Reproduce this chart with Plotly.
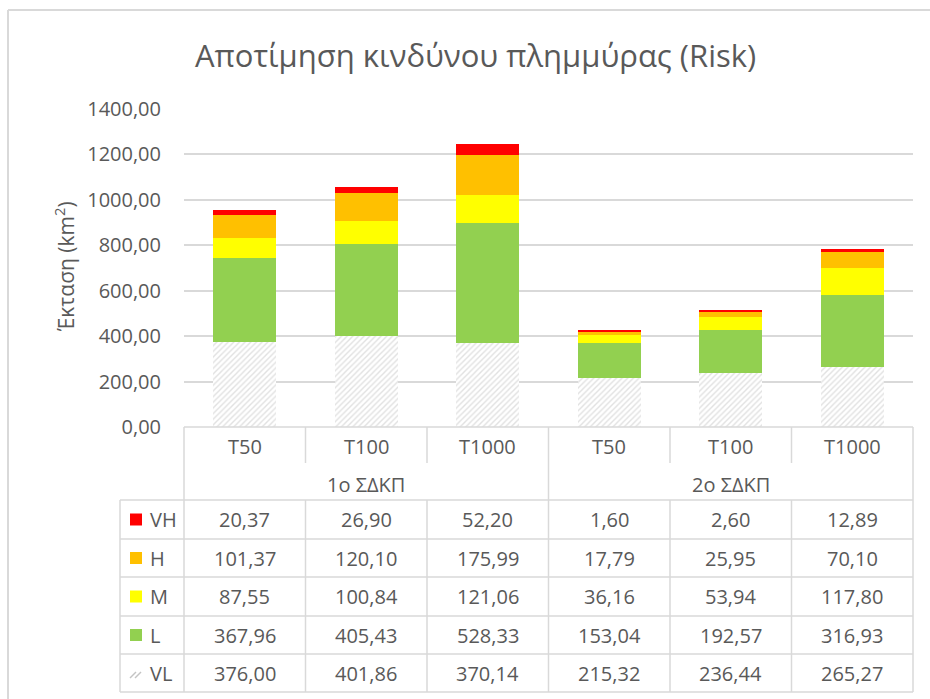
import plotly.graph_objects as go

# ---- data ----
groups = ["1ο ΣΔΚΠ", "2ο ΣΔΚΠ"]
periods = ["T50", "T100", "T1000", "T50", "T100", "T1000"]
series_names = ["VH", "H", "M", "L", "VL"]
vh = [20.37, 26.90, 52.20, 1.60, 2.60, 12.89]
h = [101.37, 120.10, 175.99, 17.79, 25.95, 70.10]
m = [87.55, 100.84, 121.06, 36.16, 53.94, 117.80]
l_ = [367.96, 405.43, 528.33, 153.04, 192.57, 316.93]
vl = [376.00, 401.86, 370.14, 215.32, 236.44, 265.27]
y_ticks = [0, 200, 400, 600, 800, 1000, 1200, 1400]

colors = {"VH": "#FF0000", "H": "#FFC000", "M": "#FFFF00", "L": "#92D050"}
hatch = "#C4C4C4"
txt = "#595959"
grid = "#D9D9D9"
FONT = "Open Sans"
FS = 20

W, H_ = 930, 699
L, R, T, B = 184, 913, 109, 427  # plot-area pixel box


def px(x):
    return (x - L) / (R - L)


def py(y):
    return (B - y) / (B - T)


x_idx = list(range(len(periods)))
fig = go.Figure()

# stacked from bottom: VL, L, M, H, VH
fig.add_bar(x=x_idx, y=vl, name="VL", width=0.52,
            marker=dict(color="white", line=dict(width=0),
                        pattern=dict(shape="/", fgcolor=hatch, bgcolor="white",
                                     size=4, solidity=0.35)))
for name, vals in [("L", l_), ("M", m), ("H", h), ("VH", vh)]:
    fig.add_bar(x=x_idx, y=vals, name=name, width=0.52,
                marker=dict(color=colors[name], line=dict(width=0)))

shapes = []
ann = []


def hline(y, x0, x1, w=1.5, c=grid):
    shapes.append(dict(type="line", xref="paper", yref="paper",
                       x0=px(x0), x1=px(x1), y0=py(y), y1=py(y),
                       line=dict(color=c, width=w)))


def vline(x, y0, y1, w=1.5, c=grid):
    shapes.append(dict(type="line", xref="paper", yref="paper",
                       x0=px(x), x1=px(x), y0=py(y0), y1=py(y1),
                       line=dict(color=c, width=w)))


def label(x, y, s, size=FS, anchor="center"):
    ann.append(dict(xref="paper", yref="paper", x=px(x), y=py(y), text=s,
                    showarrow=False, xanchor=anchor, yanchor="middle",
                    font=dict(family=FONT, size=size, color=txt)))


# outer chart border
hline(10, 8, 930, w=2)
vline(8, 10, 699, w=2)

# ---- data table ----
col_w = (R - L) / 6
cols = [L + i * col_w for i in range(7)]
row_tops = [500, 539, 577, 616, 654, 692]
T_LEFT = 120

hline(B, L, R)
for y in row_tops:
    hline(y, T_LEFT, R)
vline(L, B, row_tops[-1])
vline(R, B, row_tops[-1])
vline(T_LEFT, row_tops[0], row_tops[-1])
for i in (1, 2, 4, 5):
    vline(cols[i], B, 463)
    vline(cols[i], row_tops[0], row_tops[-1])
vline(cols[3], B, row_tops[-1])

for i, p in enumerate(periods):
    label((cols[i] + cols[i + 1]) / 2, 446, p)
for g, gname in enumerate(groups):
    label((cols[3 * g] + cols[3 * g + 3]) / 2, 484, gname)

table_rows = [("VH", vh), ("H", h), ("M", m), ("L", l_), ("VL", vl)]
for r, (name, vals) in enumerate(table_rows):
    yc = (row_tops[r] + row_tops[r + 1]) / 2
    for i, v in enumerate(vals):
        label((cols[i] + cols[i + 1]) / 2, yc, f"{v:.2f}".replace(".", ","))
    label(148, yc, name, anchor="left")
    if name in colors:
        shapes.append(dict(type="rect", xref="paper", yref="paper",
                           x0=px(130), x1=px(142), y0=py(yc - 6), y1=py(yc + 6),
                           fillcolor=colors[name], line=dict(width=0)))
    else:
        for d in (0, 5):
            shapes.append(dict(type="line", xref="paper", yref="paper",
                               x0=px(130 + d), x1=px(136 + d),
                               y0=py(yc + 5), y1=py(yc - 1),
                               line=dict(color=hatch, width=1.5)))

# axis title and chart title
ann.append(dict(xref="paper", yref="paper", x=px(64), y=py(267),
                text="Έκταση (km<sup>2</sup>)", showarrow=False, textangle=-90,
                xanchor="center", yanchor="middle",
                font=dict(family=FONT, size=21, color=txt)))
ann.append(dict(xref="paper", yref="paper", x=px(475), y=py(55),
                text="Αποτίμηση κινδύνου πλημμύρας (Risk)", showarrow=False,
                xanchor="center", yanchor="middle",
                font=dict(family=FONT, size=31, color=txt)))

fig.update_layout(
    width=W, height=H_,
    margin=dict(l=L, r=W - R, t=T, b=H_ - B, pad=0),
    paper_bgcolor="white", plot_bgcolor="white",
    barmode="stack", showlegend=False, separators=",.",
    font=dict(family=FONT, color=txt),
    xaxis=dict(range=[-0.5, 5.5], showticklabels=False, showgrid=False,
               zeroline=False, fixedrange=True),
    yaxis=dict(range=[0, 1400], tickvals=y_ticks, tickformat=".2f",
               showgrid=True, gridcolor=grid, gridwidth=1.5, zeroline=False,
               ticks="", ticklabelstandoff=22,
               tickfont=dict(family=FONT, size=FS, color=txt)),
    shapes=shapes, annotations=ann,
)

fig.write_html("out.html")
